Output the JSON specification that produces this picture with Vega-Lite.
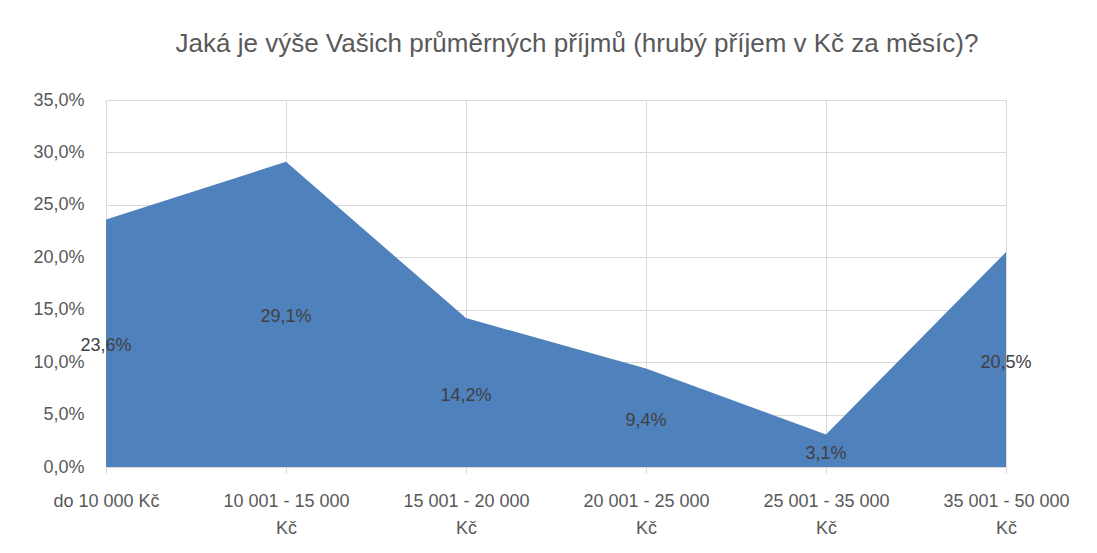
{
  "$schema": "https://vega.github.io/schema/vega-lite/v6.json",
  "width": 900,
  "height": 367,
  "autosize": {"type": "none"},
  "padding": {"left": 106, "top": 100, "right": 91, "bottom": 86},
  "background": "white",
  "config": {
    "locale": {"number": {"decimal": ",", "thousands": " ", "grouping": [3], "currency": ["", " Kč"]}},
    "font": "Liberation Sans",
    "view": {"stroke": null}
  },
  "title": {
    "text": "Jaká je výše Vašich průměrných příjmů (hrubý příjem v Kč za měsíc)?",
    "fontSize": 26,
    "fontWeight": "normal",
    "color": "#595959",
    "anchor": "middle",
    "dx": 21,
    "offset": 34
  },
  "data": {
    "values": [
      {"kategorie": "do 10 000 Kč", "podil": 0.236},
      {"kategorie": "10 001 - 15 000 Kč", "podil": 0.291},
      {"kategorie": "15 001 - 20 000 Kč", "podil": 0.142},
      {"kategorie": "20 001 - 25 000 Kč", "podil": 0.094},
      {"kategorie": "25 001 - 35 000 Kč", "podil": 0.031},
      {"kategorie": "35 001 - 50 000 Kč", "podil": 0.205}
    ]
  },
  "encoding": {
    "x": {
      "field": "kategorie",
      "type": "ordinal",
      "sort": null,
      "scale": {"type": "point", "padding": 0},
      "axis": {
        "title": null,
        "labelAngle": 0,
        "labelFontSize": 18,
        "labelColor": "#595959",
        "labelPadding": 19,
        "labelLineHeight": 27,
        "labelExpr": "datum.value == 'do 10 000 Kč' ? datum.value : [replace(datum.value, ' Kč', ''), 'Kč']",
        "domainColor": "#d9d9d9",
        "tickColor": "#d9d9d9",
        "tickSize": 6,
        "grid": true,
        "gridColor": "#d9d9d9",
        "labelBaseline": "top"
      }
    }
  },
  "layer": [
    {
      "mark": {"type": "area", "color": "#4f81bd", "opacity": 1},
      "encoding": {
        "y": {
          "field": "podil",
          "type": "quantitative",
          "scale": {"domain": [0, 0.35]},
          "axis": {
            "title": null,
            "format": ".1%",
            "values": [0, 0.05, 0.1, 0.15, 0.2, 0.25, 0.3, 0.35],
            "labelFontSize": 18,
            "labelColor": "#595959",
            "labelPadding": 22,
            "ticks": false,
            "domain": false,
            "gridColor": "#d9d9d9"
          }
        }
      }
    },
    {
      "mark": {"type": "text", "fontSize": 18, "color": "#404040", "baseline": "middle", "align": "center", "dy": 3},
      "encoding": {
        "y": {
          "field": "podil",
          "type": "quantitative",
          "scale": {"domain": [0, 0.7]},
          "axis": null
        },
        "text": {"field": "podil", "type": "quantitative", "format": ".1%"}
      }
    }
  ],
  "resolve": {"scale": {"y": "independent"}}
}
